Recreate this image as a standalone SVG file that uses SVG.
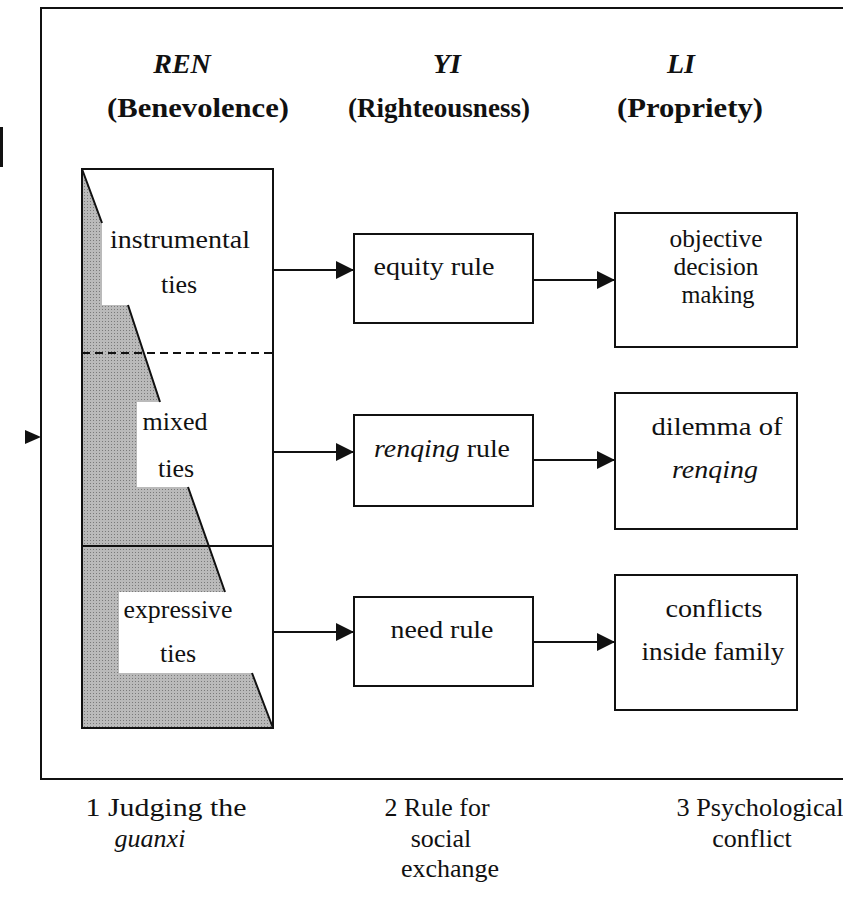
<svg xmlns="http://www.w3.org/2000/svg" width="843" height="904" viewBox="0 0 843 904">
<defs>
<style>
.t{font-family:'Liberation Serif',Tinos,'Times New Roman',Times,serif;fill:#111;}
.h{font-size:28px;font-weight:bold;}
.b{font-size:26px;}
.c{text-anchor:middle;}
.i{font-style:italic;}
.box{fill:#fff;stroke:#111;stroke-width:2;}
.ln{fill:none;stroke:#111;stroke-width:2;}
</style>
<marker id="ah" markerWidth="18" markerHeight="18" refX="18" refY="9" orient="auto" markerUnits="userSpaceOnUse"><path d="M0,0 L18,9 L0,18 z" fill="#111"/></marker>
<pattern id="dots" width="3" height="3" patternUnits="userSpaceOnUse"><rect width="3" height="3" fill="#bababa"/><rect width="1" height="1" fill="#7a7a7a"/></pattern>
</defs>
<rect width="843" height="904" fill="#fff"/>
<g id="frame">
<rect x="41" y="8" width="820" height="771" class="ln"/>
<rect x="0" y="127" width="3" height="40" fill="#111"/>
<path d="M25,430 L41,437 L25,444 z" fill="#111"/>
</g>
<g id="headers">
<text class="t h i c" x="182" y="73">REN</text>
<text class="t h c" x="198" y="117" textLength="182" lengthAdjust="spacingAndGlyphs">(Benevolence)</text>
<text class="t h i c" x="447" y="73">YI</text>
<text class="t h c" x="439" y="117" textLength="182" lengthAdjust="spacingAndGlyphs">(Righteousness)</text>
<text class="t h i c" x="681" y="73">LI</text>
<text class="t h c" x="690" y="117" textLength="146" lengthAdjust="spacingAndGlyphs">(Propriety)</text>
</g>
<g id="guanxi">
<rect x="82" y="169" width="191" height="559" class="box"/>
<path d="M82,169 L102,223 L102,305 L128,305 L160,402 L137,402 L137,487 L188,487 L225,592 L119,592 L119,673 L252,673 L273,728 L82,728 z" fill="url(#dots)"/>
<path d="M82,169 L102,223 M128,305 L160,402 M188,487 L225,592 M252,673 L273,728" class="ln"/>
<line x1="82" y1="353" x2="277" y2="353" stroke="#111" stroke-width="2" stroke-dasharray="8,5"/>
<line x1="82" y1="546" x2="273" y2="546" class="ln"/>
<rect x="82" y="169" width="191" height="559" fill="none" stroke="#111" stroke-width="2"/>
<text class="t b c" x="180" y="248" textLength="140" lengthAdjust="spacingAndGlyphs">instrumental</text>
<text class="t b c" x="179" y="293">ties</text>
<text class="t b c" x="175" y="430">mixed</text>
<text class="t b c" x="176" y="477">ties</text>
<text class="t b c" x="178" y="618" textLength="109" lengthAdjust="spacingAndGlyphs">expressive</text>
<text class="t b c" x="178" y="662">ties</text>
</g>
<g id="equity">
<rect x="354" y="234" width="179" height="89" class="box"/>
<text class="t b c" x="434" y="275" textLength="121" lengthAdjust="spacingAndGlyphs">equity rule</text>
</g>
<g id="renqingrule">
<rect x="354" y="415" width="179" height="91" class="box"/>
<text class="t b c" x="442" y="457" textLength="136" lengthAdjust="spacingAndGlyphs"><tspan class="i">renqing</tspan> rule</text>
</g>
<g id="need">
<rect x="354" y="597" width="179" height="89" class="box"/>
<text class="t b c" x="442" y="638" textLength="103" lengthAdjust="spacingAndGlyphs">need rule</text>
</g>
<g id="objective">
<rect x="615" y="213" width="182" height="134" class="box"/>
<text class="t b c" x="716" y="247" textLength="93" lengthAdjust="spacingAndGlyphs">objective</text>
<text class="t b c" x="716" y="275" textLength="85" lengthAdjust="spacingAndGlyphs">decision</text>
<text class="t b c" x="718" y="303" textLength="73" lengthAdjust="spacingAndGlyphs">making</text>
</g>
<g id="dilemma">
<rect x="615" y="393" width="182" height="136" class="box"/>
<text class="t b c" x="717" y="435" textLength="131" lengthAdjust="spacingAndGlyphs">dilemma of</text>
<text class="t b c i" x="715" y="478" textLength="86" lengthAdjust="spacingAndGlyphs">renqing</text>
</g>
<g id="conflicts">
<rect x="615" y="575" width="182" height="135" class="box"/>
<text class="t b c" x="714" y="617" textLength="97" lengthAdjust="spacingAndGlyphs">conflicts</text>
<text class="t b c" x="713" y="660" textLength="143" lengthAdjust="spacingAndGlyphs">inside family</text>
</g>
<g id="connectors">
<line x1="273" y1="270" x2="354" y2="270" class="ln" marker-end="url(#ah)"/>
<line x1="273" y1="452" x2="354" y2="452" class="ln" marker-end="url(#ah)"/>
<line x1="273" y1="632" x2="354" y2="632" class="ln" marker-end="url(#ah)"/>
<line x1="533" y1="280" x2="615" y2="280" class="ln" marker-end="url(#ah)"/>
<line x1="533" y1="460" x2="615" y2="460" class="ln" marker-end="url(#ah)"/>
<line x1="533" y1="642" x2="615" y2="642" class="ln" marker-end="url(#ah)"/>
</g>
<g id="footer">
<text class="t b c" x="166" y="816" textLength="161" lengthAdjust="spacingAndGlyphs">1 Judging the</text>
<text class="t b c i" x="150" y="847">guanxi</text>
<text class="t b c" x="437" y="816" textLength="105" lengthAdjust="spacingAndGlyphs">2 Rule for</text>
<text class="t b c" x="441" y="847">social</text>
<text class="t b c" x="450" y="877">exchange</text>
<text class="t b c" x="760" y="816" textLength="167" lengthAdjust="spacingAndGlyphs">3 Psychological</text>
<text class="t b c" x="752" y="847">conflict</text>
</g>
</svg>
